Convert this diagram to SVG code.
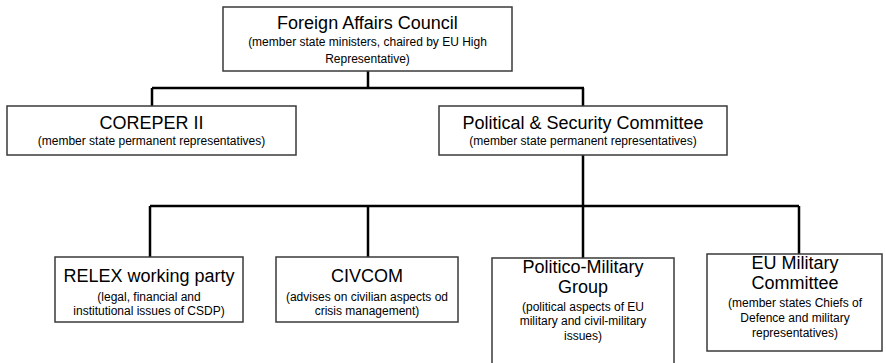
<svg xmlns="http://www.w3.org/2000/svg" width="886" height="363" viewBox="0 0 886 363">
<style>
.box{fill:#fff;stroke:#3a3a3a;stroke-width:1.5}
.conn{fill:none;stroke:#000;stroke-width:2.5}
text{font-family:"Liberation Sans",Arial,sans-serif;fill:#000;text-anchor:middle}
.t{font-size:18px}
.s{font-size:12px}
</style>
<rect width="886" height="363" fill="#fff"/>
<g id="connectors">
<path class="conn" d="M368 71V88M152 88H584M152 88V106M583 88V106"/>
<path class="conn" d="M583 155V206M150 206H799M150 206V257M368 206V257M583 206V258M799 206V254"/>
</g>
<g id="fac">
<rect class="box" x="223" y="7" width="289" height="64"/>
<text class="t" x="367.5" y="29">Foreign Affairs Council</text>
<text class="s" x="367.5" y="46">(member state ministers, chaired by EU High</text>
<text class="s" x="367.5" y="63">Representative)</text>
</g>
<g id="coreper">
<rect class="box" x="7" y="106" width="289" height="49"/>
<text class="t" x="151.5" y="129">COREPER II</text>
<text class="s" x="151.5" y="145">(member state permanent representatives)</text>
</g>
<g id="psc">
<rect class="box" x="439" y="106" width="288" height="49"/>
<text class="t" x="583" y="129">Political &amp; Security Committee</text>
<text class="s" x="583" y="145">(member state permanent representatives)</text>
</g>
<g id="relex">
<rect class="box" x="55" y="257" width="188" height="65"/>
<text class="t" x="149" y="282">RELEX working party</text>
<text class="s" x="149" y="301">(legal, financial and</text>
<text class="s" x="149" y="315">institutional issues of CSDP)</text>
</g>
<g id="civcom">
<rect class="box" x="276" y="257" width="182" height="65"/>
<text class="t" x="367" y="282">CIVCOM</text>
<text class="s" x="367" y="301">(advises on civilian aspects od</text>
<text class="s" x="367" y="315">crisis management)</text>
</g>
<g id="pmg">
<rect class="box" x="492" y="258" width="182" height="110"/>
<text class="t" x="583" y="273">Politico-Military</text>
<text class="t" x="583" y="293">Group</text>
<text class="s" x="583" y="311">(political aspects of EU</text>
<text class="s" x="583" y="325">military and civil-military</text>
<text class="s" x="583" y="340">issues)</text>
</g>
<g id="eumc">
<rect class="box" x="707" y="254" width="175" height="97"/>
<text class="t" x="795" y="269">EU Military</text>
<text class="t" x="795" y="289">Committee</text>
<text class="s" x="795" y="307">(member states Chiefs of</text>
<text class="s" x="795" y="322">Defence and military</text>
<text class="s" x="795" y="337">representatives)</text>
</g>
</svg>
